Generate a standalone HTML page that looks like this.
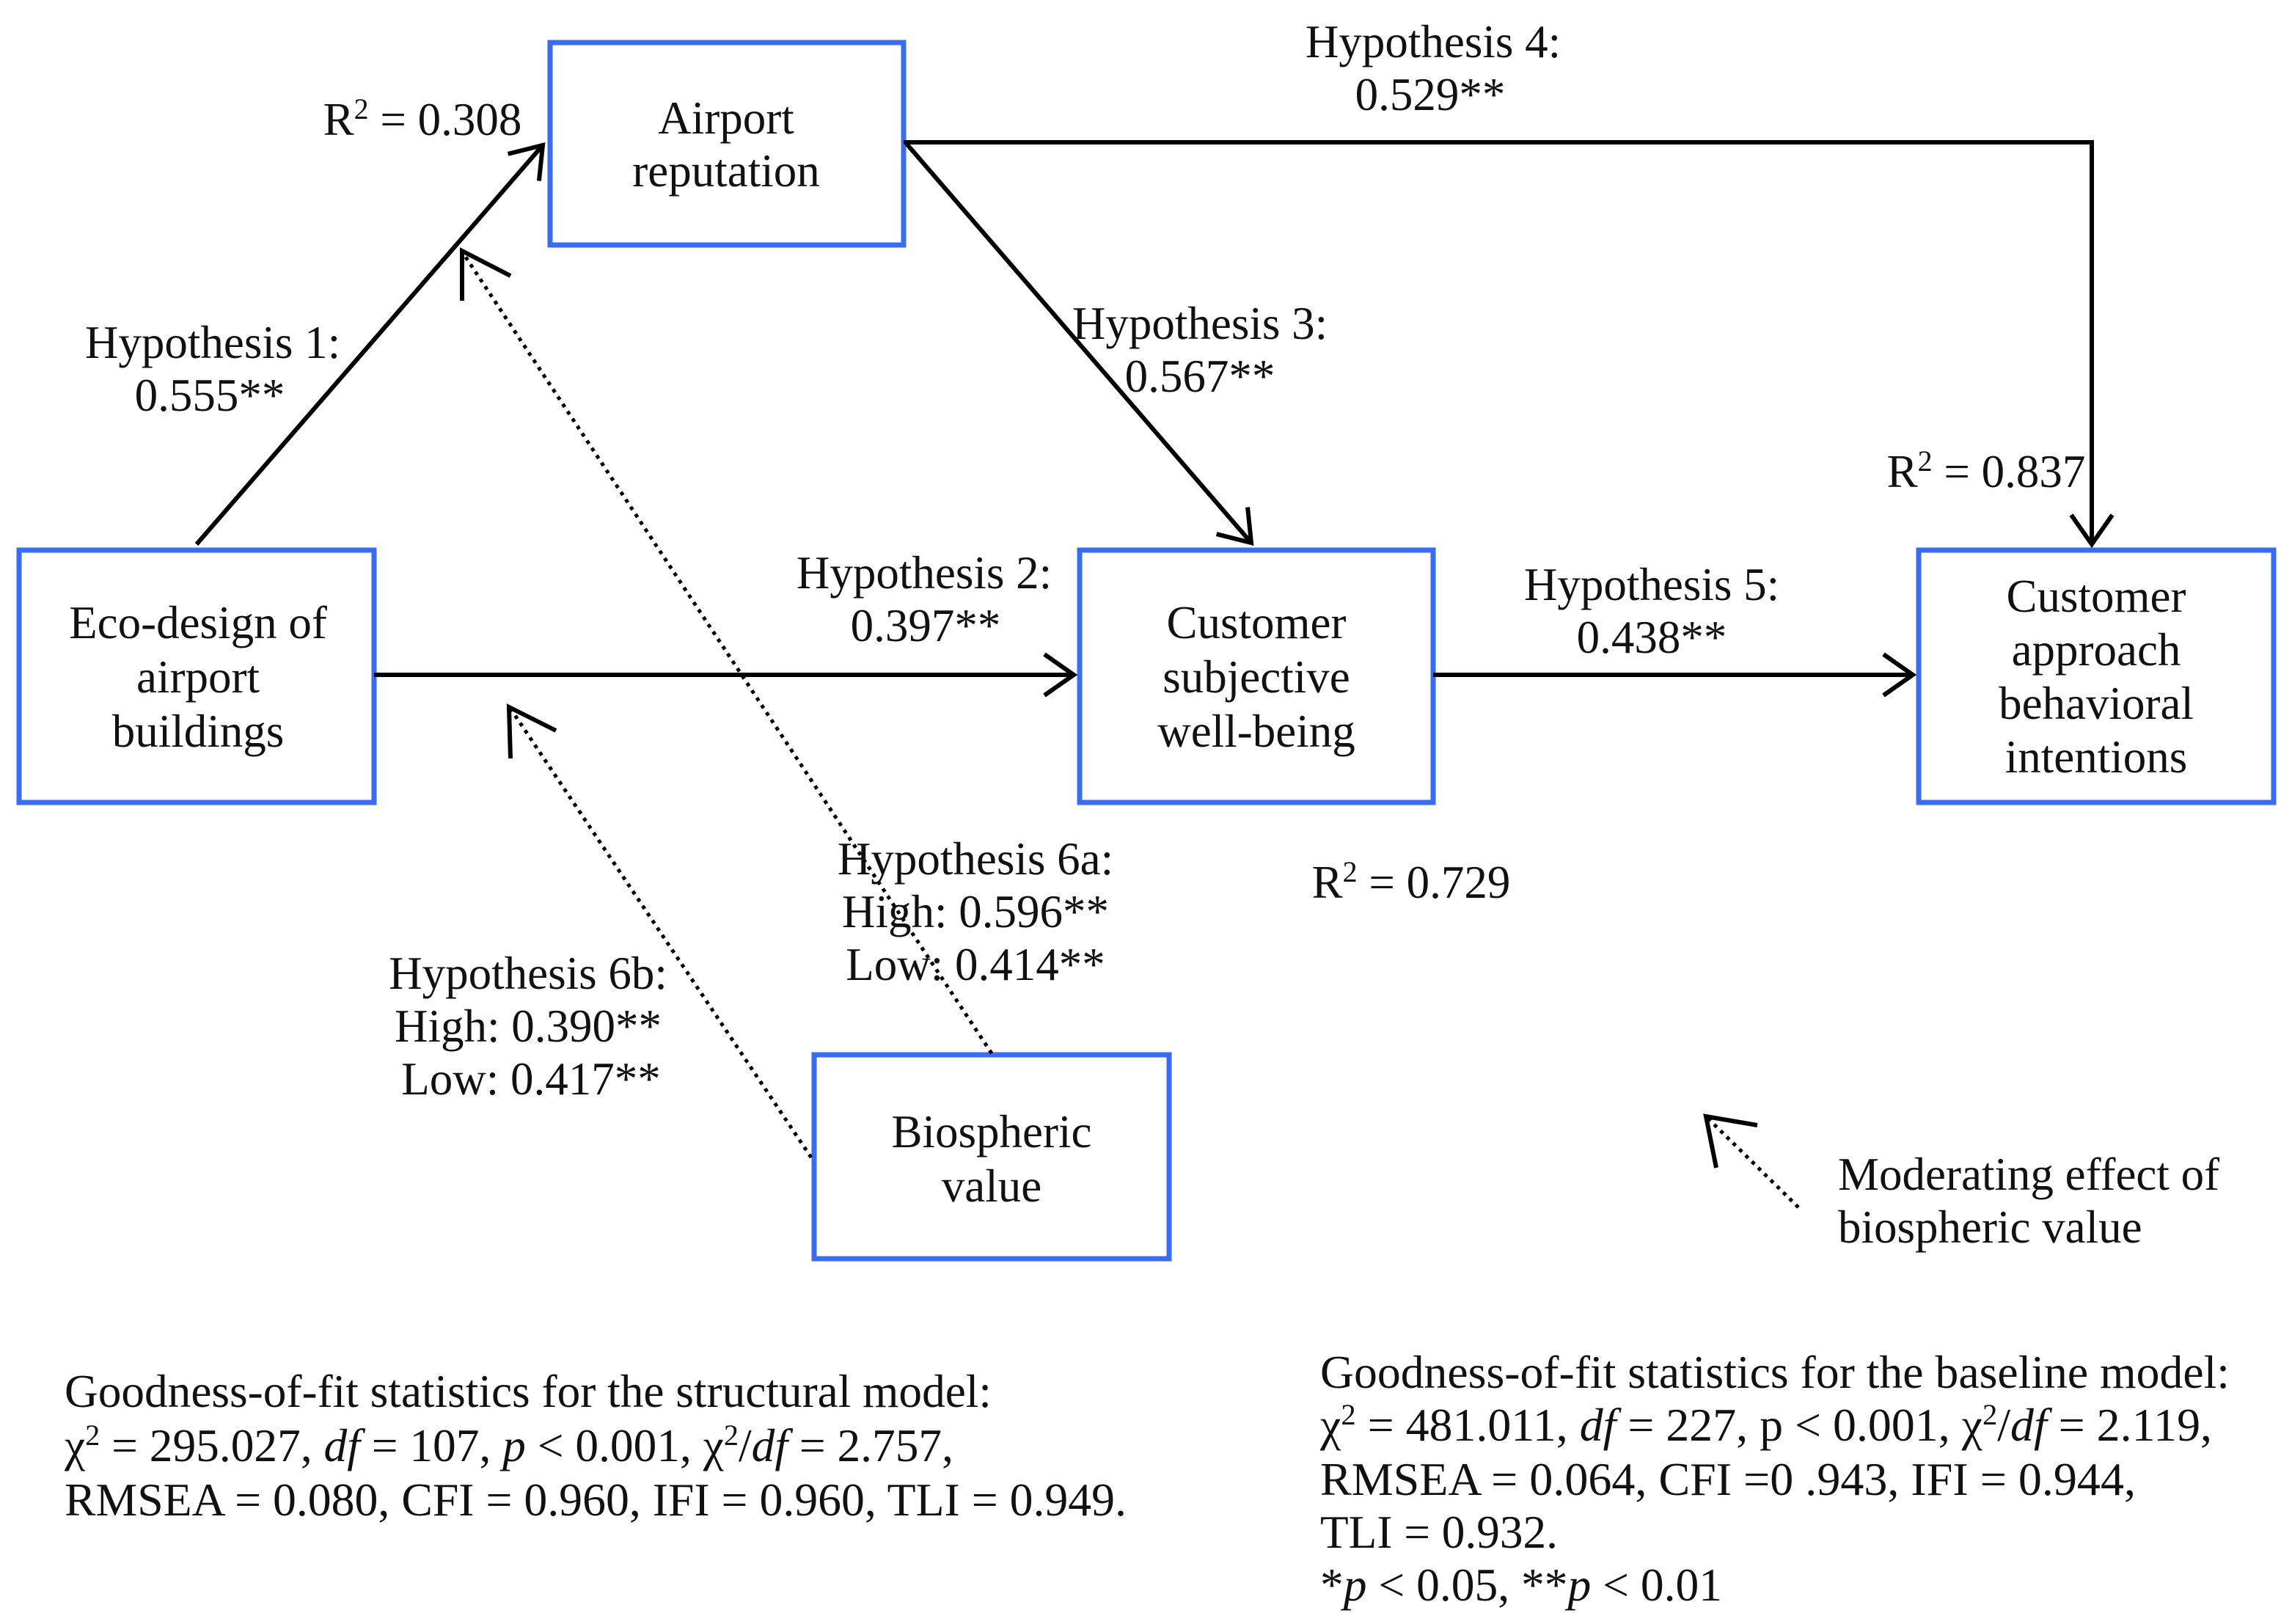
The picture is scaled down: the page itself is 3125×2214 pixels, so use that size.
<!DOCTYPE html>
<html><head><meta charset="utf-8"><style>
html,body{margin:0;padding:0;background:#fff;}
svg{display:block;}
text{font-family:"Liberation Serif",serif;font-size:63px;fill:#111;}
</style></head><body>
<svg width="3125" height="2214" viewBox="0 0 3125 2214" xmlns="http://www.w3.org/2000/svg">
<defs>
<marker id="ah" markerUnits="userSpaceOnUse" markerWidth="80" markerHeight="80" refX="44" refY="40" orient="auto">
<path d="M4,12 L44,40 L4,68" fill="none" stroke="#000" stroke-width="6"/>
</marker>
</defs>
<g fill="none" stroke="#3a6cf2" stroke-width="7">
<rect x="750" y="58" width="482" height="276"/>
<rect x="26" y="750" width="484" height="344"/>
<rect x="1472" y="750" width="482" height="344"/>
<rect x="2616" y="750" width="484" height="344"/>
<rect x="1110" y="1438" width="484" height="278"/>
</g>
<g stroke="#000" stroke-width="6" fill="none">
<line x1="268" y1="742" x2="740" y2="198" marker-end="url(#ah)"/>
<polyline points="1232,194 2852,194 2852,742" marker-end="url(#ah)"/>
<line x1="1236" y1="196" x2="1706" y2="740" marker-end="url(#ah)"/>
<line x1="510" y1="920" x2="1464" y2="920" marker-end="url(#ah)"/>
<line x1="1954" y1="920" x2="2608" y2="920" marker-end="url(#ah)"/>
</g>
<g stroke="#000" stroke-width="5" fill="none" stroke-dasharray="5,7">
<line x1="1352" y1="1436" x2="632" y2="346"/>
<line x1="1106" y1="1578" x2="696" y2="966"/>
<line x1="2452" y1="1646" x2="2328" y2="1524"/>
</g>
<g stroke="#000" stroke-width="6" fill="none">
<path d="M630,410 L630,342 L696,376"/>
<path d="M696,1034 L694,964 L758,996"/>
<path d="M2340,1592 L2326,1522 L2396,1534"/>
</g>
<g text-anchor="middle">
<text x="990" y="182">Airport</text>
<text x="990" y="254">reputation</text>
<text x="270" y="870">Eco-design of</text>
<text x="270" y="944">airport</text>
<text x="270" y="1018">buildings</text>
<text x="1713" y="870">Customer</text>
<text x="1713" y="944">subjective</text>
<text x="1713" y="1018">well-being</text>
<text x="2858" y="834">Customer</text>
<text x="2858" y="907">approach</text>
<text x="2858" y="980">behavioral</text>
<text x="2858" y="1053">intentions</text>
<text x="1352" y="1564">Biospheric</text>
<text x="1352" y="1638">value</text>
<text x="576" y="184">R<tspan font-size="40" dy="-22">2</tspan><tspan dy="22"> = 0.308</tspan></text>
<text x="290" y="488">Hypothesis 1:</text>
<text x="286" y="560">0.555**</text>
<text x="1954" y="78">Hypothesis 4:</text>
<text x="1950" y="150">0.529**</text>
<text x="1636" y="462">Hypothesis 3:</text>
<text x="1636" y="534">0.567**</text>
<text x="2708" y="664">R<tspan font-size="40" dy="-22">2</tspan><tspan dy="22"> = 0.837</tspan></text>
<text x="1260" y="802">Hypothesis 2:</text>
<text x="1262" y="874">0.397**</text>
<text x="2252" y="818">Hypothesis 5:</text>
<text x="2252" y="890">0.438**</text>
<text x="1330" y="1192">Hypothesis 6a:</text>
<text x="1330" y="1264">High: 0.596**</text>
<text x="1330" y="1336">Low: 0.414**</text>
<text x="1924" y="1224">R<tspan font-size="40" dy="-22">2</tspan><tspan dy="22"> = 0.729</tspan></text>
<text x="720" y="1348">Hypothesis 6b:</text>
<text x="720" y="1420">High: 0.390**</text>
<text x="724" y="1492">Low: 0.417**</text>
</g>
<text x="2506" y="1622">Moderating effect of</text>
<text x="2506" y="1694">biospheric value</text>
<text x="88" y="1918" textLength="1264" lengthAdjust="spacingAndGlyphs">Goodness-of-fit statistics for the structural model:</text>
<text x="88" y="1992" textLength="1212" lengthAdjust="spacingAndGlyphs">χ<tspan font-size="40" dy="-22">2</tspan><tspan dy="22"> = 295.027, </tspan><tspan font-style="italic">df</tspan> = 107, <tspan font-style="italic">p</tspan> &lt; 0.001, χ<tspan font-size="40" dy="-22">2</tspan><tspan dy="22">/</tspan><tspan font-style="italic">df</tspan> = 2.757,</text>
<text x="88" y="2066" textLength="1448" lengthAdjust="spacingAndGlyphs">RMSEA = 0.080, CFI = 0.960, IFI = 0.960, TLI = 0.949.</text>
<text x="1800" y="1892" textLength="1240" lengthAdjust="spacingAndGlyphs">Goodness-of-fit statistics for the baseline model:</text>
<text x="1800" y="1964" textLength="1216" lengthAdjust="spacingAndGlyphs">χ<tspan font-size="40" dy="-22">2</tspan><tspan dy="22"> = 481.011, </tspan><tspan font-style="italic">df</tspan> = 227, p &lt; 0.001, χ<tspan font-size="40" dy="-22">2</tspan><tspan dy="22">/</tspan><tspan font-style="italic">df</tspan> = 2.119,</text>
<text x="1800" y="2038" textLength="1112" lengthAdjust="spacingAndGlyphs">RMSEA = 0.064, CFI =0 .943, IFI = 0.944,</text>
<text x="1800" y="2110" textLength="324" lengthAdjust="spacingAndGlyphs">TLI = 0.932.</text>
<text x="1800" y="2182" textLength="548" lengthAdjust="spacingAndGlyphs">*<tspan font-style="italic">p</tspan> &lt; 0.05, **<tspan font-style="italic">p</tspan> &lt; 0.01</text>
</svg>
</body></html>
